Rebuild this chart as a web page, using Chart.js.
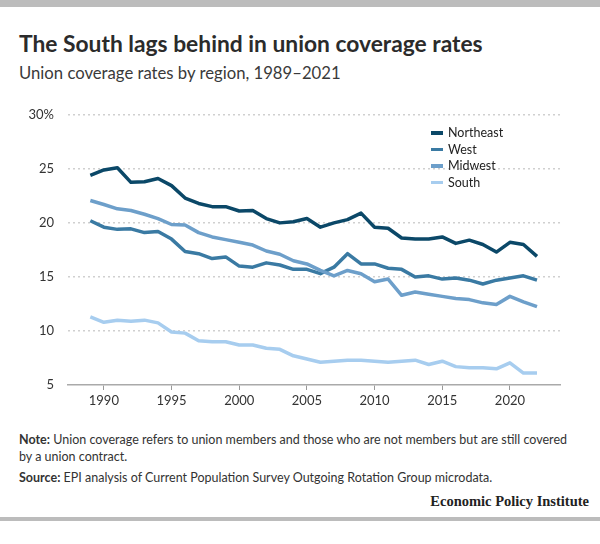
<!DOCTYPE html>
<html><head><meta charset="utf-8">
<script src="https://cdn.jsdelivr.net/npm/chart.js@4/dist/chart.umd.min.js"></script>
<style>
html,body{margin:0;padding:0;background:#fff;}
body{width:600px;height:544px;position:relative;overflow:hidden;font-family:Lato,"Open Sans",sans-serif;}
#topbar{position:absolute;left:0;top:0;width:600px;height:7px;background:#bcbcbc;}
#botbar{position:absolute;left:0;top:517px;width:600px;height:4px;background:#bcbcbc;}
#title{position:absolute;left:19px;top:29px;font-size:22.8px;font-weight:700;color:#2b2b2b;white-space:nowrap;}
#subtitle{position:absolute;left:19px;top:63px;font-size:16.7px;font-weight:400;color:#3a3a3a;white-space:nowrap;}
#wrap{position:absolute;left:0;top:93px;width:600px;height:322px;}
#legend{position:absolute;left:431px;top:125px;font-size:12.5px;color:#222;}
.li{height:16.6px;line-height:16.6px;white-space:nowrap;}
.sw{display:inline-block;width:12px;height:3.5px;vertical-align:middle;margin-right:5px;position:relative;top:-1px;}
#note{position:absolute;left:19px;top:431px;width:556px;font-size:12.5px;line-height:17px;color:#333;}
#source{position:absolute;left:19px;top:470px;font-size:12.5px;color:#333;white-space:nowrap;}
#epi{position:absolute;right:11px;top:493px;font-family:"Liberation Serif","DejaVu Serif",serif;font-weight:700;font-size:14.5px;color:#222;}
</style></head><body>
<div id="topbar"></div>
<div id="title">The South lags behind in union coverage rates</div>
<div id="subtitle">Union coverage rates by region, 1989–2021</div>
<div id="wrap"><canvas id="c" width="600" height="322"></canvas></div>
<div id="legend"></div>
<div id="note"><b>Note:</b> Union coverage refers to union members and those who are not members but are still covered by a union contract.</div>
<div id="source"><b>Source:</b> EPI analysis of Current Population Survey Outgoing Rotation Group microdata.</div>
<div id="epi">Economic Policy Institute</div>
<div id="botbar"></div>
<script>
const years = [];
for (let y = 1989; y <= 2022; y++) years.push(y);

const northeast = [24.4,24.9,25.1,23.75,23.8,24.1,23.45,22.3,21.8,21.5,21.5,21.1,21.15,20.4,20.0,20.1,20.4,19.6,20.0,20.3,20.9,19.6,19.5,18.6,18.5,18.5,18.7,18.1,18.4,18.0,17.3,18.2,18.0,16.9];
const west      = [20.2,19.6,19.4,19.45,19.1,19.2,18.5,17.35,17.15,16.7,16.85,16.0,15.9,16.3,16.1,15.7,15.7,15.3,15.9,17.15,16.2,16.2,15.8,15.7,15.0,15.1,14.8,14.9,14.7,14.35,14.7,14.9,15.1,14.7];
const midwest   = [22.07,21.7,21.3,21.15,20.8,20.4,19.85,19.8,19.1,18.7,18.45,18.2,17.95,17.4,17.1,16.5,16.2,15.6,15.1,15.6,15.3,14.55,14.8,13.3,13.6,13.4,13.2,13.0,12.9,12.6,12.45,13.2,12.7,12.25];
const south     = [11.3,10.8,11.0,10.9,11.0,10.75,9.9,9.8,9.1,9.0,9.0,8.7,8.7,8.4,8.3,7.7,7.4,7.1,7.2,7.3,7.3,7.2,7.1,7.2,7.3,6.9,7.2,6.7,6.6,6.6,6.5,7.05,6.1,6.1];

const seriesNames = ["Northeast","West","Midwest","South"];
const seriesData = [northeast, west, midwest, south];
const colors = ["#0b4868","#3a7aa3","#6d9fca","#a7cdef"];

const yTicks = [5,10,15,20,25,30];
const xTicks = [1990,1995,2000,2005,2010,2015,2020];

const datasets = seriesNames.map((n,i)=>({
  label:n,
  data: years.map((y,j)=>({x:y,y:seriesData[i][j]})),
  borderColor:colors[i],
  backgroundColor:colors[i],
  borderWidth:3.5,
  pointRadius:0,
  tension:0,
  borderJoinStyle:'round',
  borderCapStyle:'butt',
  order: 4-i
}));

const lg = document.getElementById('legend');
seriesNames.forEach((n,i)=>{
  const d=document.createElement('div');d.className='li';
  d.innerHTML='<span class="sw" style="background:'+colors[i]+'"></span>'+n;
  lg.appendChild(d);
});

new Chart(document.getElementById('c'),{
  type:'line',
  data:{datasets},
  options:{
    responsive:false,animation:false,
    layout:{padding:{top:7,right:40,left:0,bottom:0}},
    plugins:{legend:{display:false},tooltip:{enabled:false}},
    scales:{
      x:{type:'linear',min:1987.35,max:2023.7,
        afterBuildTicks:s=>{s.ticks=xTicks.map(v=>({value:v}));},
        afterFit:s=>{s.height=30;},
        ticks:{callback:v=>String(v),color:'#333',font:{family:'Lato',size:13},padding:3,maxRotation:0},
        grid:{drawOnChartArea:false,drawTicks:true,tickLength:5,color:'#999',lineWidth:1},
        border:{display:true,color:'#aaa',width:1.5}
      },
      y:{min:5,max:30,
        afterBuildTicks:s=>{s.ticks=yTicks.map(v=>({value:v}));},
        afterFit:s=>{s.width=68;},
        ticks:{callback:v=>v===30?'30%':String(v),color:'#333',font:{family:'Lato',size:13},padding:14},
        grid:{drawTicks:false,color:c=>c.tick&&c.tick.value===5?'rgba(0,0,0,0)':'#d0d0d0',lineWidth:1.5},
        border:{display:false,dash:[2,3]}
      }
    }
  }
});
</script>
</body></html>
